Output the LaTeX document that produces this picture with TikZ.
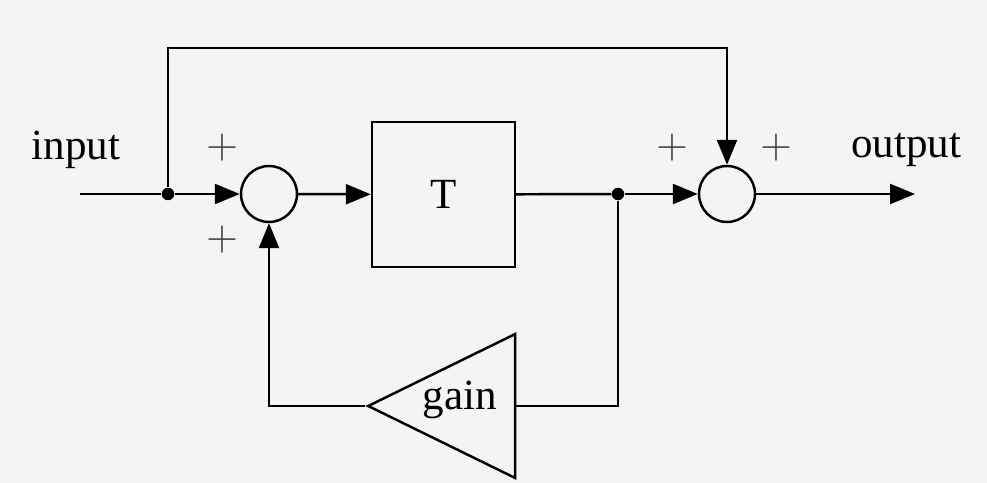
\documentclass[tikz,border=0pt]{standalone}
\usepackage{fontspec}
\setmainfont{Liberation Serif}
\usepackage{tikz}
\usetikzlibrary{shapes,positioning,calc}
\usetikzlibrary{shapes.geometric}
\usetikzlibrary{arrows.meta}
\definecolor{sfondo}{HTML}{F4F4F4}
\definecolor{segno}{HTML}{3A3A3A}
\tikzstyle{somma} = [circle, draw=black, line width=1.4pt, minimum size=1.12cm, inner sep=0pt]
\tikzstyle{blocco} = [rectangle, draw=black, line width=1.4pt, minimum width=2.86cm, minimum height=2.9cm, text centered]
\tikzstyle{amplif} = [isosceles triangle, isosceles triangle stretches, shape border rotate=180, draw=black, line width=1.4pt, minimum width=2.88cm, minimum height=2.94cm, inner sep=0pt]
\tikzstyle{punto} = [circle, fill=black, minimum size=0.25cm, inner sep=0pt]
\tikzstyle{segnopiu} = [text=segno, font=\fontsize{23}{26}\selectfont]
\tikzstyle{arrow} = [line width=1.4pt,-{Triangle[length=0.5cm,width=0.4cm]}]
\tikzstyle{linea} = [line width=1.4pt]

\begin{document}
\begin{tikzpicture}[x=0.02cm,y=-0.02cm,font=\fontsize{24.5}{28}\selectfont]
	\fill[sfondo] (0,0) rectangle (987,483);
	\useasboundingbox (0,0) rectangle (987,483);
	% nodi
	\coordinate (in) at (80,194);
	\node (j1) at (168,194) [punto] {};
	\node (sA) at (269,194) [somma] {};
	\node (T) at (443.5,194.5) [blocco] {T};
	\node (j2) at (618,194) [punto] {};
	\node (sB) at (727,194) [somma] {};
	\coordinate (out) at (915,194);
	\coordinate (alto) at (727,48);
	\node (g) at (365,406) [amplif, anchor=apex] {};
	\node (gl) at (460,400) {gain};
	% testi
	\node (ti) at (76,150) {input};
	\node (to) at (906,150) {output};
	\node (p1) at (222,148) [segnopiu] {$+$};
	\node (p2) at (222,240) [segnopiu] {$+$};
	\node (p3) at (672,148) [segnopiu] {$+$};
	\node (p4) at (776,148) [segnopiu] {$+$};
	% collegamenti
	\draw[linea] (in) -- (j1);
	\draw[arrow] (j1) -- (sA);
	\draw[arrow] (j1) |- (alto) -- (sB);
	\draw[arrow] (sA) -- (T);
	\draw[linea] (T) -- (j2);
	\draw[arrow] (j2) -- (sB);
	\draw[arrow] (sB) -- (out);
	\draw[linea] (j2) |- (g.east);
	\draw[arrow] (g.apex) -| (sA);
\end{tikzpicture}
\end{document}
